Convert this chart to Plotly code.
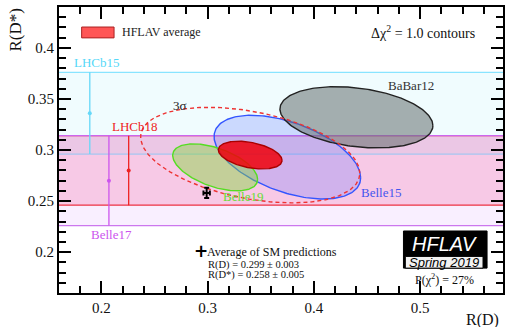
import numpy as np
import plotly.graph_objects as go

# ---- data ----
# 1D R(D*) measurements (bands)
band_names = ["LHCb15", "LHCb18", "Belle17"]
band_val = [0.336, 0.280, 0.270]
band_err = [0.040, 0.034, 0.044]
band_x = [0.189, 0.2256, 0.207]

# 2D measurements: R(D), R(D*), sigma R(D), sigma R(D*), correlation
ell_names = ["Belle15", "BaBar12", "Belle19", "HFLAV average"]
ell_rd = [0.375, 0.440, 0.307, 0.340]
ell_rds = [0.293, 0.332, 0.283, 0.295]
ell_srd = [0.069, 0.072, 0.040, 0.030]
ell_srds = [0.041, 0.030, 0.023, 0.0136]
ell_rho = [-0.49, -0.27, -0.51, -0.38]

chi2_3sigma = 11.83

# SM prediction
sm_rd, sm_rd_err = 0.299, 0.003
sm_rds, sm_rds_err = 0.258, 0.005

x_ticks = [0.2, 0.3, 0.4, 0.5]
x_tick_labels = ["0.2", "0.3", "0.4", "0.5"]
y_ticks = [0.2, 0.25, 0.3, 0.35, 0.4]
y_tick_labels = ["0.2", "0.25", "0.3", "0.35", "0.4"]

FONT = "'Liberation Serif', 'DejaVu Serif', serif"
SANS = "'Liberation Sans', Arial, sans-serif"


def ellipse(mx, my, sx, sy, rho, scale=1.0, n=240):
    t = np.linspace(0, 2 * np.pi, n)
    x = mx + scale * sx * np.cos(t)
    y = my + scale * sy * (rho * np.cos(t) + np.sqrt(1 - rho ** 2) * np.sin(t))
    return x, y


fig = go.Figure()

band_fill = ["rgba(0,200,240,0.06)", "rgba(240,0,90,0.16)", "rgba(190,80,255,0.09)"]
band_top_col = ["#88e4ff", "#ee3344", "#cc66ee"]
band_bot_col = ["#a6c6f0", "#ee3344", "#cc77ee"]
band_col = ["#66d8f8", "#ee2222", "#cc55ee"]

shapes = []
for i in range(3):
    lo = band_val[i] - band_err[i]
    hi = band_val[i] + band_err[i]
    shapes.append(dict(type="rect", xref="paper", yref="y", x0=0, x1=1, y0=lo, y1=hi,
                       fillcolor=band_fill[i], line=dict(width=0), layer="below"))
for i in range(3):
    lo = band_val[i] - band_err[i]
    hi = band_val[i] + band_err[i]
    shapes.append(dict(type="line", xref="paper", yref="y", x0=0, x1=1, y0=hi, y1=hi,
                       line=dict(color=band_top_col[i], width=1.3), layer="below"))
    shapes.append(dict(type="line", xref="paper", yref="y", x0=0, x1=1, y0=lo, y1=lo,
                       line=dict(color=band_bot_col[i], width=1.3), layer="below"))

# error bars of 1D measurements
for i in range(3):
    fig.add_trace(go.Scatter(
        x=[band_x[i]], y=[band_val[i]], mode="markers",
        marker=dict(color=band_col[i], size=4),
        error_y=dict(type="data", array=[band_err[i]], color=band_col[i], thickness=1.3, width=0),
        showlegend=False, hoverinfo="skip"))

ell_fill = ["rgba(90,110,255,0.25)", "rgba(100,110,110,0.55)", "rgba(130,215,60,0.45)", "rgba(240,0,10,0.85)"]
ell_line = ["#3355ff", "#222222", "#55dd22", "#aa0000"]

for i in range(3):
    x, y = ellipse(ell_rd[i], ell_rds[i], ell_srd[i], ell_srds[i], ell_rho[i])
    fig.add_trace(go.Scatter(x=x, y=y, mode="lines", fill="toself",
                             fillcolor=ell_fill[i], line=dict(color=ell_line[i], width=1.4),
                             showlegend=False, hoverinfo="skip"))

# 3 sigma contour of average
x, y = ellipse(ell_rd[3], ell_rds[3], ell_srd[3], ell_srds[3], ell_rho[3], scale=np.sqrt(chi2_3sigma))
fig.add_trace(go.Scatter(x=x, y=y, mode="lines", line=dict(color="#ee3333", width=1.4, dash="4px,3px"),
                         showlegend=False, hoverinfo="skip"))

# average
x, y = ellipse(ell_rd[3], ell_rds[3], ell_srd[3], ell_srds[3], ell_rho[3])
fig.add_trace(go.Scatter(x=x, y=y, mode="lines", fill="toself",
                         fillcolor=ell_fill[3], line=dict(color=ell_line[3], width=1.4),
                         showlegend=False, hoverinfo="skip"))

# SM point
fig.add_trace(go.Scatter(x=[sm_rd], y=[sm_rds], mode="markers",
                         marker=dict(color="black", size=1),
                         error_x=dict(type="data", array=[sm_rd_err], color="black", thickness=2, width=2.5),
                         error_y=dict(type="data", array=[sm_rds_err], color="black", thickness=2, width=2.5),
                         showlegend=False, hoverinfo="skip"))

ann = []
lab_pos = {
    "LHCb15": (0.196, 0.3856, "#55d8f8"),
    "LHCb18": (0.232, 0.3235, "#ee2222"),
    "Belle17": (0.2092, 0.2173, "#cc55ee"),
    "BaBar12": (0.491, 0.363, "#333333"),
    "Belle15": (0.463, 0.2588, "#4455ee"),
    "Belle19": (0.3334, 0.254, "#66dd33"),
}
for name, (lx, ly, c) in lab_pos.items():
    ann.append(dict(x=lx, y=ly, xref="x", yref="y", text=name, showarrow=False,
                    xanchor="center", yanchor="middle",
                    font=dict(family=FONT, size=13, color=c)))
ann.append(dict(x=0.274, y=0.344, xref="x", yref="y", text="3σ", showarrow=False,
                xanchor="center", yanchor="middle",
                font=dict(family=FONT, size=13, color="#222222")))


def pann(x, y, text, size, color="#111111", family=FONT, xanchor="center", **kw):
    ann.append(dict(x=x, y=y, xref="paper", yref="paper", text=text, showarrow=False,
                    xanchor=xanchor, yanchor=kw.pop("yanchor", "middle"),
                    font=dict(family=family, size=size, color=color), **kw))


# legend-like box
shapes.append(dict(type="rect", xref="paper", yref="paper", x0=0.051, x1=0.124, y0=0.892, y1=0.930,
                   fillcolor="#ff5555", line=dict(color="#aa2222", width=1)))
pann(0.137, 0.912, "HFLAV average", 12, "#222222", xanchor="left")

pann(0.942, 0.912, "Δχ<sup>2</sup> = 1.0 contours", 14, xanchor="right")

# SM text
pann(0.3, 0.146, "<b>+</b>", 17, "black", family="DejaVu Sans", xanchor="left")
pann(0.328, 0.145, "Average of SM predictions", 12, xanchor="left")
pann(0.331, 0.099, "R(D) = 0.299 ± 0.003", 10.5, xanchor="left")
pann(0.331, 0.063, "R(D*) = 0.258 ± 0.005", 10.5, xanchor="left")

# HFLAV logo (black frame with grey inner box)
shapes.append(dict(type="rect", xref="paper", yref="paper", x0=0.7758, x1=0.9641, y0=0.087, y1=0.2168,
                   fillcolor="black", line=dict(color="black", width=1)))
shapes.append(dict(type="rect", xref="paper", yref="paper", x0=0.780, x1=0.955, y0=0.087, y1=0.128,
                   fillcolor="#f2f2f2", line=dict(color="black", width=1)))
pann(0.869, 0.172, "<i>HFLAV</i>", 20, "white", family=SANS)
pann(0.868, 0.108, "<i>Spring 2019</i>", 13, "black", family=SANS)
pann(0.868, 0.048, "P(χ<sup>2</sup>) = 27%", 12)

# axis titles
pann(-0.099, 1.0, "R(D*)", 17, textangle=-90, yanchor="top")
pann(0.912, -0.094, "R(D)", 16, xanchor="left")

fig.update_layout(
    width=505, height=327,
    margin=dict(l=59, r=0, t=7, b=34),
    paper_bgcolor="white", plot_bgcolor="white",
    font=dict(family=FONT),
    shapes=shapes, annotations=ann,
    showlegend=False,
    xaxis=dict(range=[0.16, 0.578], tickvals=x_ticks, ticktext=x_tick_labels,
               ticks="inside", ticklen=12, tickwidth=1.5, tickcolor="black",
               minor=dict(dtick=0.02, tick0=0.0, ticks="inside", ticklen=7, tickwidth=1.5, tickcolor="black"),
               showline=True, linecolor="black", linewidth=2, mirror="ticks",
               showgrid=False, zeroline=False,
               tickfont=dict(family=FONT, size=15, color="#111111")),
    yaxis=dict(range=[0.16, 0.44], tickvals=y_ticks, ticktext=y_tick_labels,
               ticks="inside", ticklen=12, tickwidth=1.5, tickcolor="black",
               minor=dict(dtick=0.01, tick0=0.0, ticks="inside", ticklen=7, tickwidth=1.5, tickcolor="black"),
               showline=True, linecolor="black", linewidth=2, mirror="ticks",
               showgrid=False, zeroline=False,
               tickfont=dict(family=FONT, size=15, color="#111111")),
)

fig.write_html("out.html", config={"displayModeBar": False},
               post_script="document.body.style.margin='0';document.body.style.padding='0';")
